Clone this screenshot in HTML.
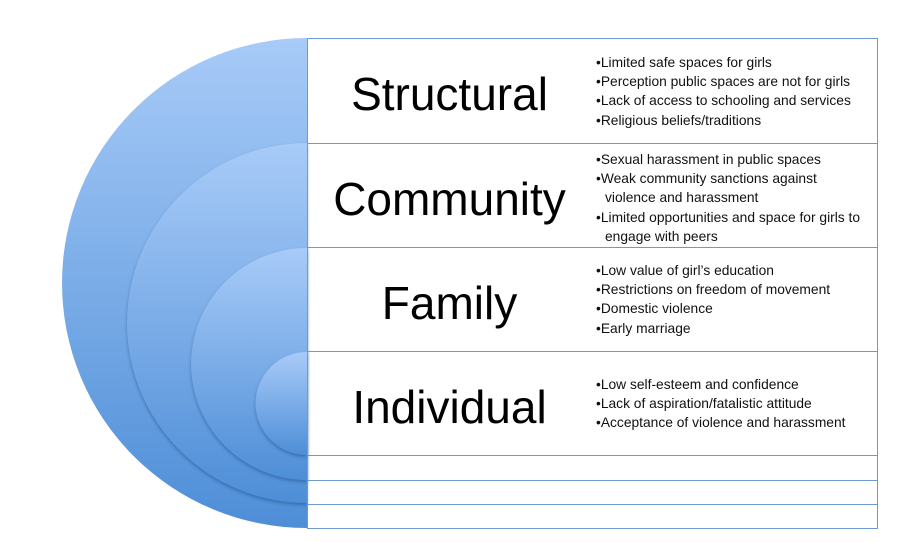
<!DOCTYPE html>
<html><head><meta charset="utf-8"><style>
body{margin:0;background:#fff;width:913px;height:542px;overflow:hidden;position:relative;font-family:"Liberation Sans",sans-serif}
.t{position:absolute;left:307px;width:571px;border:1px solid #6f9ad0;box-sizing:border-box}
.lab{position:absolute;left:307px;width:285px;text-align:center;font-size:46px;color:#000;line-height:54px}
.b{position:absolute;left:596px;font-size:13.8px;line-height:19.2px;color:#111;white-space:nowrap}
.b div{padding-left:9px;text-indent:-9px}
</style></head><body>
<svg width="913" height="542" style="position:absolute;left:0;top:0">
<defs>
<linearGradient id="g" x1="0" y1="0" x2="0" y2="1"><stop offset="0" stop-color="#a8cbf8"/><stop offset="1" stop-color="#4e8ed7"/></linearGradient>
<filter id="s" x="-20%" y="-20%" width="140%" height="140%"><feDropShadow dx="0" dy="2" stdDeviation="1.5" flood-color="#1d4f8f" flood-opacity="0.55"/></filter>
</defs>
<path d="M307 38 A245 245 0 0 0 307 528 Z" fill="url(#g)"/>
<path d="M307 143 A180 180 0 0 0 307 503 Z" fill="url(#g)" filter="url(#s)"/>
<path d="M307 248 A116 116 0 0 0 307 480 Z" fill="url(#g)" filter="url(#s)"/>
<path d="M307 352 A51.5 51.5 0 0 0 307 455 Z" fill="url(#g)" filter="url(#s)"/>
</svg>
<div class="t" style="top:38px;height:106px"></div>
<div class="t" style="top:143px;height:105px"></div>
<div class="t" style="top:247px;height:105px"></div>
<div class="t" style="top:351px;height:105px"></div>
<div class="t" style="top:455px;height:26px"></div>
<div class="t" style="top:480px;height:25px"></div>
<div class="t" style="top:504px;height:25px"></div>
<div class="lab" style="top:67px">Structural</div>
<div class="lab" style="top:172px">Community</div>
<div class="lab" style="top:276px">Family</div>
<div class="lab" style="top:380px">Individual</div>
<div class="b" style="top:53px"><div>•Limited safe spaces for girls</div><div>•Perception public spaces are not for girls</div><div>•Lack of access to schooling and services</div><div>•Religious beliefs/traditions</div></div>
<div class="b" style="top:150px"><div>•Sexual harassment in public spaces</div><div>•Weak community sanctions against<br>violence and harassment</div><div>•Limited opportunities and space for girls to<br>engage with peers</div></div>
<div class="b" style="top:261px"><div>•Low value of girl’s education</div><div>•Restrictions on freedom of movement</div><div>•Domestic violence</div><div>•Early marriage</div></div>
<div class="b" style="top:375px"><div>•Low self-esteem and confidence</div><div>•Lack of aspiration/fatalistic attitude</div><div>•Acceptance of violence and harassment</div></div>
</body></html>
